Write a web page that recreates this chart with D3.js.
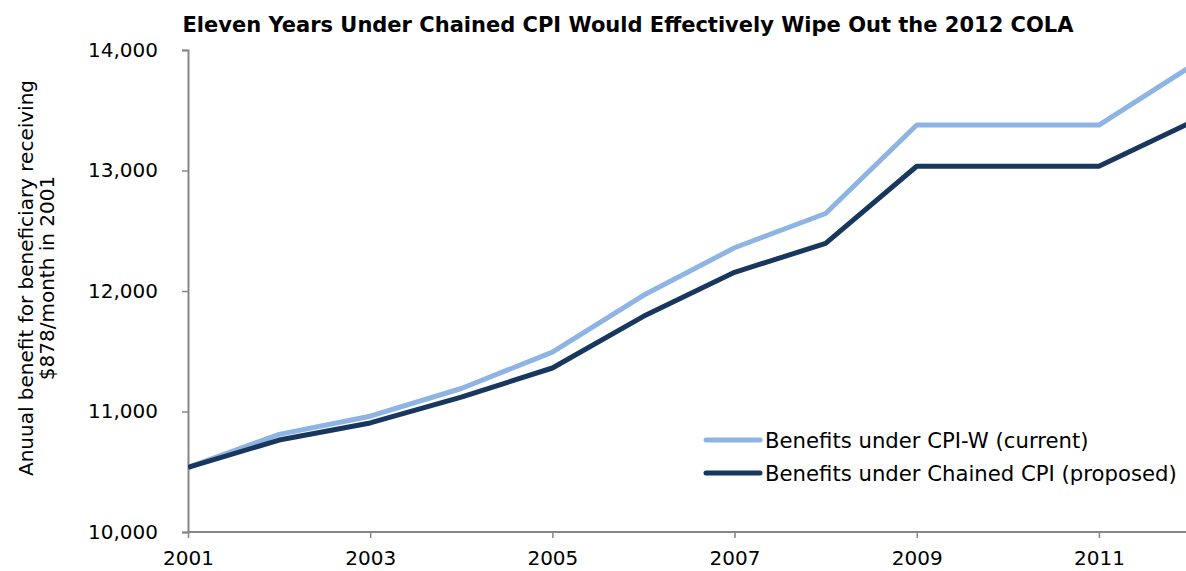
<!DOCTYPE html>
<html>
<head>
<meta charset="utf-8">
<script src="https://cdnjs.cloudflare.com/ajax/libs/d3/7.8.5/d3.min.js"></script>
<style>
  body { margin: 0; background: #fff; }
  text { font-family: Verdana, "DejaVu Sans", sans-serif; fill: #000; }
</style>
</head>
<body>
<script>
(function() {
  var years, cpiW, chained, seriesNames, seriesColors, yTicks, xTicks;
  var width, height, svg, x, y, line, lines, legend;

  years = [2001, 2002, 2003, 2004, 2005, 2006, 2007, 2008, 2009, 2010, 2011, 2012];
  cpiW = [10536, 10810, 10961, 11191, 11493, 11964, 12359, 12643, 13377, 13377, 13377, 13859];
  chained = [10536, 10763, 10905, 11120, 11361, 11790, 12155, 12395, 13035, 13035, 13035, 13395];
  seriesNames = ["Benefits under CPI-W (current)", "Benefits under Chained CPI (proposed)"];
  seriesColors = ["#8db4e2", "#17375e"];
  yTicks = [10000, 11000, 12000, 13000, 14000];
  xTicks = [2001, 2003, 2005, 2007, 2009, 2011];

  width = 1186;
  height = 571;

  svg = d3.select("body").append("svg").attr("width", width).attr("height", height);

  x = d3.scaleLinear().domain([2001, 2012]).range([188, 1190]);
  y = d3.scaleLinear().domain([10000, 14000]).range([532, 50]);

  // title
  svg.append("text").attr("x", 628).attr("y", 32).attr("text-anchor", "middle")
    .style("font-size", "21px").style("font-weight", "bold")
    .text("Eleven Years Under Chained CPI Would Effectively Wipe Out the 2012 COLA");

  // axes
  var yAxis = svg.append("g").attr("transform", "translate(188,0)")
    .call(d3.axisLeft(y).tickValues(yTicks).tickSize(6).tickPadding(24).tickFormat(d3.format(",")));
  var xAxis = svg.append("g").attr("transform", "translate(0,532)")
    .call(d3.axisBottom(x).tickValues(xTicks).tickSize(6).tickPadding(13).tickFormat(d3.format("d")));

  [yAxis, xAxis].forEach(function(a) {
    a.select(".domain").attr("stroke", "#868686").attr("stroke-width", 2);
    a.selectAll(".tick line").attr("stroke", "#868686").attr("stroke-width", 1.5);
    a.selectAll(".tick text").style("font-size", "20px").attr("fill", "#000");
  });
  xAxis.select(".domain").attr("d", "M188,0H1186");

  // y title
  var yt = svg.append("text").attr("transform", "translate(33,278) rotate(-90)")
    .attr("text-anchor", "middle").style("font-size", "20px");
  yt.append("tspan").attr("x", 0).attr("dy", 0).text("Anuual benefit for beneficiary receiving");
  yt.append("tspan").attr("x", 0).attr("dy", 21).text("$878/month in 2001");

  // lines
  line = d3.line().x(function(d, i) { return x(years[i]); }).y(function(d) { return y(d); });

  svg.append("clipPath").attr("id", "clip").append("rect")
    .attr("x", 188).attr("y", 0).attr("width", 998).attr("height", 540);

  lines = svg.append("g").attr("clip-path", "url(#clip)");
  lines.selectAll("path").data([cpiW, chained]).enter().append("path")
    .attr("d", line)
    .attr("fill", "none")
    .attr("stroke", function(d, i) { return seriesColors[i]; })
    .attr("stroke-width", 5)
    .attr("stroke-linejoin", "round");

  // legend
  legend = svg.selectAll(".legend").data(seriesNames).enter().append("g")
    .attr("class", "legend")
    .attr("transform", function(d, i) { return "translate(706," + (440 + i * 33) + ")"; });
  legend.append("line").attr("x1", 0).attr("x2", 54).attr("y1", 0).attr("y2", 0)
    .attr("stroke", function(d, i) { return seriesColors[i]; })
    .attr("stroke-width", 5).attr("stroke-linecap", "round");
  legend.append("text").attr("x", 59).attr("y", 8).style("font-size", "21.2px")
    .text(function(d) { return d; });
}).call(this);
</script>
</body>
</html>
